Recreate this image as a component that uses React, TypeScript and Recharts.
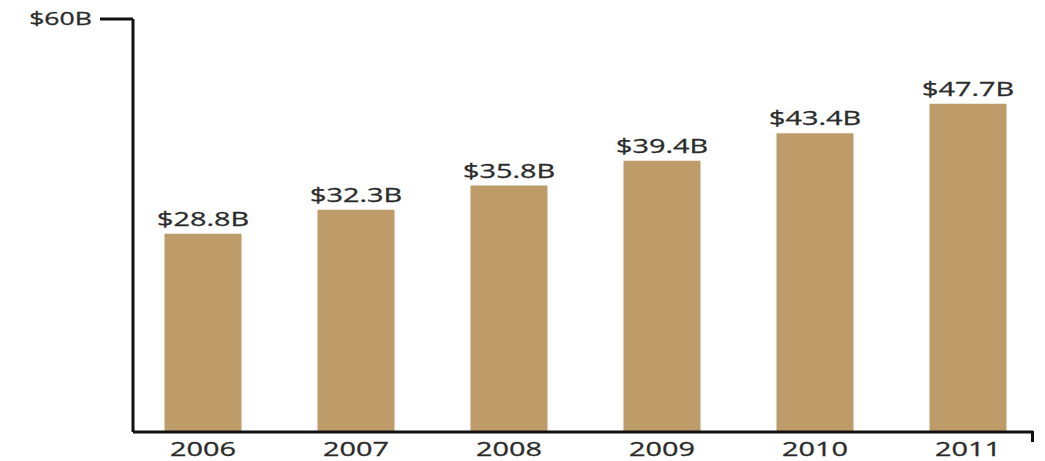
import React from "react";
import { Bar, BarChart, LabelList, XAxis, YAxis } from "recharts";

const YEARS = ["2006", "2007", "2008", "2009", "2010", "2011"];
const REVENUE = [28.8, 32.3, 35.8, 39.4, 43.4, 47.7];
const Y_TICKS = [60];

const BAR_COLOR = "#BE9C6A";
const TEXT_COLOR = "#2b2b2b";
const AXIS_COLOR = "#111111";
const FONT = "'Open Sans', 'DejaVu Sans', sans-serif";
const STRETCH = 1.48; // text in the source is stretched horizontally

const data = YEARS.map((year, i) => ({ year, value: REVENUE[i] }));

function money(v: number) {
  return `$${v}B`;
}

function StretchText({
  x,
  y,
  anchor,
  size,
  children,
}: {
  x: number;
  y: number;
  anchor: "start" | "middle" | "end";
  size: number;
  children: React.ReactNode;
}) {
  return (
    <g transform={`translate(${x},${y}) scale(${STRETCH},1)`}>
      <text
        x={0}
        y={0}
        textAnchor={anchor}
        fill={TEXT_COLOR}
        stroke={TEXT_COLOR}
        strokeWidth={0.3}
        fontSize={size}
        fontFamily={FONT}
      >
        {children}
      </text>
    </g>
  );
}

function XTick(props: any) {
  const { x, y, payload } = props;
  return (
    <StretchText x={x} y={y + 23.5} anchor="middle" size={19.5}>
      {payload.value}
    </StretchText>
  );
}

function YTick(props: any) {
  const { x, y, payload } = props;
  return (
    <StretchText x={x} y={y + 6} anchor="end" size={18}>
      {money(payload.value)}
    </StretchText>
  );
}

function ValueLabel(props: any) {
  const { x, y, width, value } = props;
  return (
    <StretchText x={x + width / 2} y={y - 8} anchor="middle" size={19.5}>
      {money(value)}
    </StretchText>
  );
}

export default function App() {
  return (
    <div
      style={{
        position: "absolute",
        left: 0,
        top: 0,
        width: 1045,
        height: 461,
        background: "#fff",
      }}
    >
      <BarChart
        width={1045}
        height={461}
        data={data}
        margin={{ top: 19, right: 12, bottom: 0, left: 0 }}
        barSize={77}
      >
        <XAxis
          dataKey="year"
          height={29}
          padding={{ left: -6.5, right: -11.5 }}
          axisLine={{ stroke: AXIS_COLOR, strokeWidth: 3 }}
          tickLine={false}
          tickSize={0}
          tickMargin={0}
          tick={<XTick />}
          interval={0}
        />
        <YAxis
          width={133}
          domain={[0, 60]}
          ticks={Y_TICKS}
          axisLine={{ stroke: AXIS_COLOR, strokeWidth: 3 }}
          tickLine={{ stroke: AXIS_COLOR, strokeWidth: 3 }}
          tickSize={33}
          tickMargin={8}
          tick={<YTick />}
        />
        <Bar dataKey="value" fill={BAR_COLOR} isAnimationActive={false}>
          <LabelList dataKey="value" content={<ValueLabel />} />
        </Bar>
      </BarChart>
      <div
        style={{
          position: "absolute",
          left: 1031,
          top: 431,
          width: 3,
          height: 11,
          background: AXIS_COLOR,
        }}
      />
    </div>
  );
}
